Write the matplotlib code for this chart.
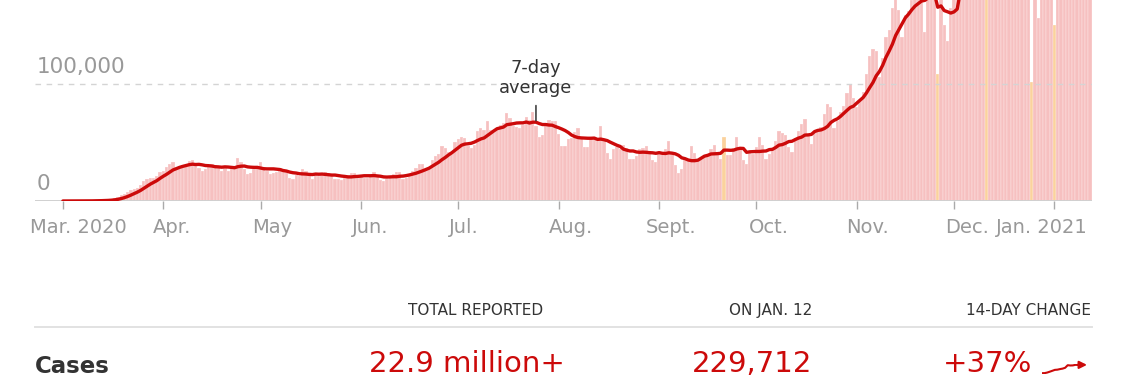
import numpy as np
import pandas as pd
import matplotlib
matplotlib.use("Agg")
import matplotlib.pyplot as plt
import matplotlib.transforms as mtransforms

# daily new cases (thousands), one list per month
mar_2020 = [0.01, 0.02, 0.025, 0.03, 0.07, 0.09, 0.11, 0.12, 0.18, 0.25,
            0.3, 0.45, 0.65, 0.75, 1.0, 1.5, 2.4, 3.2, 5.0, 6.2,
            7.8, 9.2, 10.5, 11.2, 13.5, 17.5, 19, 20, 19.5, 21, 25]
apr_2020 = [26, 29, 32, 33, 27, 29, 31, 31, 34, 35,
            31, 28, 26, 27, 30, 32, 31, 30, 26, 28,
            26, 28, 30, 37, 33, 27, 23, 24, 27, 30]
may_2020 = [33, 29, 26, 23, 24, 25, 28, 27, 26, 20,
            19, 22, 21, 27, 26, 24, 19, 22, 21, 22,
            25, 24, 22, 19, 19, 18, 20, 22, 24, 24, 20]
jun_2020 = [21, 20, 20, 22, 25, 22, 18, 17, 19, 21,
            23, 25, 25, 19, 20, 23, 26, 28, 32, 32,
            27, 28, 35, 38, 40, 47, 45, 42, 41, 50]
jul_2020 = [53, 55, 54, 47, 45, 48, 60, 62, 61, 68,
            61, 59, 61, 65, 67, 75, 71, 64, 63, 62,
            65, 72, 69, 76, 64, 55, 56, 65, 69, 68, 68]
aug_2020 = [57, 47, 47, 53, 54, 59, 62, 55, 46, 46,
            53, 55, 51, 64, 51, 41, 36, 44, 46, 44,
            48, 45, 36, 36, 38, 44, 45, 47, 43, 35, 33]
sep_2020 = [42, 40, 44, 51, 41, 31, 24, 27, 35, 36,
            47, 41, 34, 36, 39, 40, 44, 48, 42, 36,
            55, 39, 39, 45, 55, 46, 35, 32, 42, 40]
oct_2020 = [46, 55, 48, 36, 40, 44, 51, 60, 58, 56,
            46, 42, 54, 60, 66, 70, 57, 49, 59, 61,
            63, 74, 83, 80, 62, 68, 76, 81, 92, 100, 88]
nov_2020 = [80, 85, 93, 108, 124, 130, 128, 106, 122, 140,
            146, 165, 182, 163, 140, 159, 162, 172, 187, 197,
            178, 144, 173, 175, 183, 108, 205, 150, 137, 165]
dec_2020 = [182, 200, 214, 227, 213, 174, 193, 216, 222, 226,
            244, 219, 189, 197, 199, 247, 238, 250, 198, 189,
            196, 199, 228, 196, 102, 226, 156, 174, 199, 230, 228]
jan_2021 = [150, 278, 208, 186, 232, 256, 275, 296, 262, 213, 218, 230]

# days with reporting irregularities (drawn in yellow)
flagged_days = ["2020-09-21", "2020-11-26", "2020-12-11", "2020-12-25", "2021-01-01"]

month_labels = ["Mar. 2020", "Apr.", "May", "Jun.", "Jul.", "Aug.", "Sept.",
                "Oct.", "Nov.", "Dec.", "Jan. 2021"]

annotation_day = "2020-07-25"
total_reported = "22.9 million+"
latest_day = "229,712"
change_14day = "+37%"

RED = "#cc0a0a"
PINK = "#f6c0c0"
YELLOW = "#fbd29c"
GRAY = "#999999"
DARK = "#333333"

daily = np.array(mar_2020 + apr_2020 + may_2020 + jun_2020 + jul_2020 + aug_2020
                 + sep_2020 + oct_2020 + nov_2020 + dec_2020 + jan_2021) * 1000
dates = pd.date_range("2020-03-01", periods=len(daily), freq="D")
avg7 = pd.Series(daily, index=dates).rolling(7, min_periods=1).mean()

W, H = 1140, 380
fig = plt.figure(figsize=(W / 100, H / 100), dpi=100)


def fx(px):
    return px / W


def fy(py):
    return 1 - py / H


ax = fig.add_axes([fx(35), fy(201), fx(1092) - fx(35), fy(0) - fy(201)])

colors = [YELLOW if d.strftime("%Y-%m-%d") in flagged_days else PINK for d in dates]
ax.bar(dates, daily, width=1.0, color=colors, edgecolor=(1, 1, 1, 0.55),
       linewidth=0.35, zorder=1)
ax.plot(dates, avg7.values, color=RED, lw=2.4, zorder=3, solid_capstyle="round")

ax.axhline(100000, color="#d4d4d4", lw=1, ls=(0, (4, 4)), zorder=2)
ax.axhline(0, color="#d0d0d0", lw=1.4, zorder=2)

ax.set_ylim(0, 171600)
ax.set_xlim(dates[0] - pd.Timedelta(days=8.6), dates[-1] + pd.Timedelta(days=0.6))

for s in ax.spines.values():
    s.set_visible(False)
ax.set_yticks([])

for val, lab in [(0, "0"), (100000, "100,000")]:
    ax.annotate(lab, xy=(0, val), xycoords=("axes fraction", "data"),
                xytext=(1, 12.3), textcoords="offset points",
                ha="left", va="center", fontsize=15.5, color=GRAY)

month_starts = pd.date_range("2020-03-01", "2021-01-01", freq="MS")
ax.set_xticks(month_starts)
ax.set_xticklabels(month_labels, fontsize=14, color=GRAY)
ax.tick_params(axis="x", length=5.5, width=1, color="#aaaaaa", pad=7)
label_shift_px = [16, 9, 12, 9, 6, 12, 12, 13, 11, 13, -13]
for lab, dx in zip(ax.get_xticklabels(), label_shift_px):
    lab.set_transform(lab.get_transform()
                      + mtransforms.ScaledTranslation(dx / 100, 0, fig.dpi_scale_trans))

ann_date = pd.Timestamp(annotation_day)
ax.annotate("7-day\naverage", xy=(ann_date, avg7[ann_date]),
            xytext=(0, 18), textcoords="offset points",
            ha="center", va="bottom", fontsize=12.8, color=DARK, linespacing=1.15,
            arrowprops=dict(arrowstyle="-", color=DARK, lw=1.1, shrinkA=4, shrinkB=1))

# summary table below the chart
for x_px, head in [(543, "TOTAL REPORTED"), (812, "ON JAN. 12"), (1091, "14-DAY CHANGE")]:
    fig.text(fx(x_px), fy(315), head, ha="right", va="baseline", fontsize=11, color=DARK)
fig.add_artist(plt.Line2D([fx(35), fx(1092)], [fy(327), fy(327)], color="#e2e2e2", lw=1.4))
fig.text(fx(35), fy(373), "Cases", ha="left", va="baseline", fontsize=16.5,
         fontweight="bold", color=DARK)
fig.text(fx(565), fy(372), total_reported, ha="right", va="baseline", fontsize=21, color=RED)
fig.text(fx(812), fy(372), latest_day, ha="right", va="baseline", fontsize=21, color=RED)
fig.text(fx(1032), fy(372), change_14day, ha="right", va="baseline", fontsize=21, color=RED)

# little trend arrow: 7-day average over the last 14 days
trend = avg7.iloc[-15:].values
sax = fig.add_axes([fx(1042), fy(374), fx(1078) - fx(1042), fy(364) - fy(374)])
sax.plot(np.arange(len(trend)), trend, color=RED, lw=1.5)
sax.annotate("", xy=(len(trend) + 2.5, trend[-1]), xytext=(len(trend) - 1.2, trend[-1]),
             annotation_clip=False,
             arrowprops=dict(arrowstyle="-|>", color=RED, lw=1.5, mutation_scale=11,
                             shrinkA=0, shrinkB=0))
sax.set_xlim(0, len(trend) - 1)
pad = (trend.max() - trend.min()) * 0.1
sax.set_ylim(trend.min() - pad, trend.max() + pad)
sax.axis("off")

fig.savefig("out.png", dpi=100)
